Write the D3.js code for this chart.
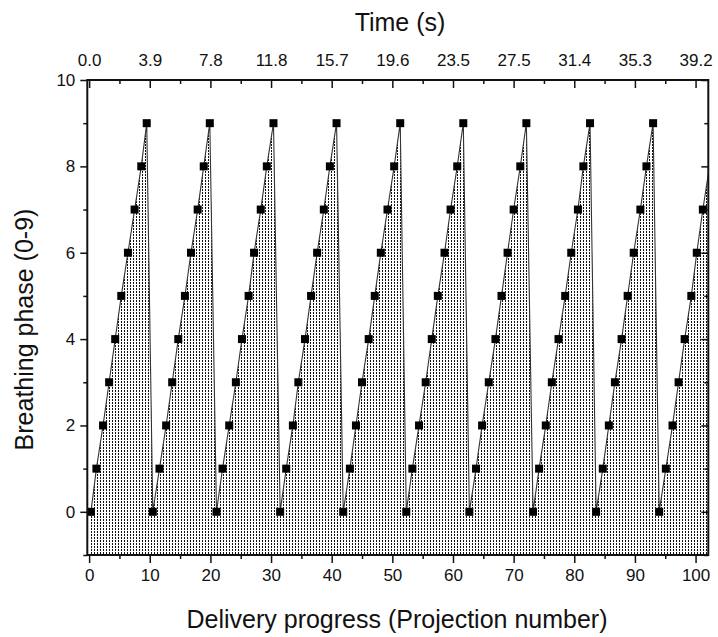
<!DOCTYPE html>
<html>
<head>
<meta charset="utf-8">
<script src="https://cdn.jsdelivr.net/npm/d3@7"></script>
<style>
  body { margin: 0; background: #fff; }
  text { font-family: "Liberation Sans", Arial, sans-serif; fill: #111; }
</style>
</head>
<body>
<svg id="chart" width="718" height="637"></svg>
<script>
// projection number of each sample
const projection = [
  0.3, 1.2, 2.3, 3.3, 4.3, 5.3, 6.4, 7.5, 8.6, 9.5,
  10.5, 11.6, 12.7, 13.7, 14.7, 15.8, 16.8, 17.9, 18.9, 19.9,
  21.0, 22.0, 23.1, 24.2, 25.2, 26.3, 27.2, 28.3, 29.3, 30.4,
  31.5, 32.5, 33.6, 34.5, 35.6, 36.6, 37.6, 38.7, 39.7, 40.8,
  41.9, 43.0, 44.0, 45.0, 46.1, 47.1, 48.1, 49.2, 50.3, 51.3,
  52.3, 53.3, 54.4, 55.5, 56.5, 57.5, 58.6, 59.6, 60.7, 61.7,
  62.7, 63.8, 64.8, 65.9, 67.0, 68.0, 69.0, 70.0, 71.1, 72.1,
  73.2, 74.2, 75.3, 76.3, 77.4, 78.5, 79.5, 80.6, 81.5, 82.6,
  83.6, 84.7, 85.7, 86.7, 87.8, 88.8, 89.8, 90.9, 91.9, 93.0,
  94.0, 95.1, 96.2, 97.2, 98.2, 99.3, 100.2, 101.2, 102.3
]
// breathing phase bin for each sample
const phase = [
  0, 1, 2, 3, 4, 5, 6, 7, 8, 9,
  0, 1, 2, 3, 4, 5, 6, 7, 8, 9,
  0, 1, 2, 3, 4, 5, 6, 7, 8, 9,
  0, 1, 2, 3, 4, 5, 6, 7, 8, 9,
  0, 1, 2, 3, 4, 5, 6, 7, 8, 9,
  0, 1, 2, 3, 4, 5, 6, 7, 8, 9,
  0, 1, 2, 3, 4, 5, 6, 7, 8, 9,
  0, 1, 2, 3, 4, 5, 6, 7, 8, 9,
  0, 1, 2, 3, 4, 5, 6, 7, 8, 9,
  0, 1, 2, 3, 4, 5, 6, 7, 8
]
const bottomTicks = [0, 10, 20, 30, 40, 50, 60, 70, 80, 90, 100]
const bottomMinor = [5, 15, 25, 35, 45, 55, 65, 75, 85, 95]
const timeLabels = ["0.0", "3.9", "7.8", "11.8", "15.7", "19.6", "23.5", "27.5", "31.4", "35.3", "39.2"]
const yTicks = [0, 2, 4, 6, 8, 10]
const yMinor = [-1, 1, 3, 5, 7, 9]

const data = projection.map((p, i) => ({x: p, y: phase[i]}))

const svg = d3.select("#chart")
const padLeft = 87.3, padRight = 708.3, padTop = 80, padBottom = 555

const x = d3.scaleLinear().domain([-0.3, 102.1]).range([padLeft, padRight])
const y = d3.scaleLinear().domain([-1, 10]).range([padBottom, padTop])

// dotted vertical hatch used by the area fill
const defs = svg.append("defs")
const pat = defs.append("pattern")
  .attr("id", "dots")
  .attr("patternUnits", "userSpaceOnUse")
  .attr("width", 3).attr("height", 3)
pat.append("rect").attr("x", 1).attr("y", 0).attr("width", 1).attr("height", 1.5)
  .attr("fill", "#111").attr("shape-rendering", "crispEdges")

defs.append("clipPath").attr("id", "plotclip")
  .append("rect").attr("x", padLeft).attr("y", padTop).attr("width", padRight - padLeft).attr("height", padBottom - padTop)

const plot = svg.append("g").attr("clip-path", "url(#plotclip)")

const area = d3.area().x(d => x(d.x)).y0(y(-1)).y1(d => y(d.y))
plot.append("path").datum(data)
  .attr("d", area)
  .attr("fill", "url(#dots)")

const line = d3.line().x(d => x(d.x)).y(d => y(d.y))
plot.append("path").datum(data)
  .attr("d", line)
  .attr("fill", "none")
  .attr("stroke", "#333")
  .attr("stroke-width", 1.1)

plot.selectAll("rect.pt").data(data.filter(d => d.x <= x.domain()[1])).enter().append("rect")
  .attr("class", "pt")
  .attr("x", d => x(d.x) - 4)
  .attr("y", d => y(d.y) - 4)
  .attr("width", 8).attr("height", 8)
  .attr("fill", "#000")

// Axes
const bottomAxis = d3.axisBottom(x).tickValues(bottomTicks).tickSize(8).tickPadding(6)
const bottomAxisMinor = d3.axisBottom(x).tickValues(bottomMinor).tickSize(4).tickFormat("")
const topAxis = d3.axisTop(x).tickValues(bottomTicks).tickSize(-8).tickPadding(14)
  .tickFormat((d, i) => timeLabels[i])
const topAxisMinor = d3.axisTop(x).tickValues(bottomMinor).tickSize(-4).tickFormat("")
const leftAxis = d3.axisLeft(y).tickValues(yTicks).tickSize(7).tickPadding(5)
const leftAxisMinor = d3.axisLeft(y).tickValues(yMinor).tickSize(4).tickFormat("")
const rightAxis = d3.axisRight(y).tickValues(yTicks).tickSize(-7).tickFormat("")
const rightAxisMinor = d3.axisRight(y).tickValues(yMinor).tickSize(-4).tickFormat("")

function styleAxis(g) {
  g.select(".domain").remove()
  g.selectAll(".tick line").attr("stroke", "#111").attr("stroke-width", 1.5)
  g.selectAll(".tick text").style("font-size", "17px").attr("fill", "#111")
    .style("font-family", "'Liberation Sans', Arial, sans-serif")
}

svg.append("g").attr("transform", `translate(0,${padBottom})`).call(bottomAxis).call(styleAxis)
svg.append("g").attr("transform", `translate(0,${padBottom})`).call(bottomAxisMinor).call(styleAxis)
svg.append("g").attr("transform", `translate(0,${padTop})`).call(topAxis).call(styleAxis)
svg.append("g").attr("transform", `translate(0,${padTop})`).call(topAxisMinor).call(styleAxis)
svg.append("g").attr("transform", `translate(${padLeft},0)`).call(leftAxis).call(styleAxis)
svg.append("g").attr("transform", `translate(${padLeft},0)`).call(leftAxisMinor).call(styleAxis)
svg.append("g").attr("transform", `translate(${padRight},0)`).call(rightAxis).call(styleAxis)
svg.append("g").attr("transform", `translate(${padRight},0)`).call(rightAxisMinor).call(styleAxis)

// frame
svg.append("rect")
  .attr("x", padLeft).attr("y", padTop)
  .attr("width", padRight - padLeft).attr("height", padBottom - padTop)
  .attr("fill", "none").attr("stroke", "#111").attr("stroke-width", 2)

// titles
svg.append("text")
  .attr("x", 397).attr("y", 628)
  .attr("text-anchor", "middle")
  .style("font-size", "25px")
  .text("Delivery progress (Projection number)")

svg.append("text")
  .attr("x", 400).attr("y", 31)
  .attr("text-anchor", "middle")
  .style("font-size", "25px")
  .text("Time (s)")

svg.append("text")
  .attr("transform", `translate(33,${(padTop + padBottom) / 2 + 12}) rotate(-90)`)
  .attr("text-anchor", "middle")
  .style("font-size", "25px")
  .text("Breathing phase (0-9)")
</script>
</body>
</html>
